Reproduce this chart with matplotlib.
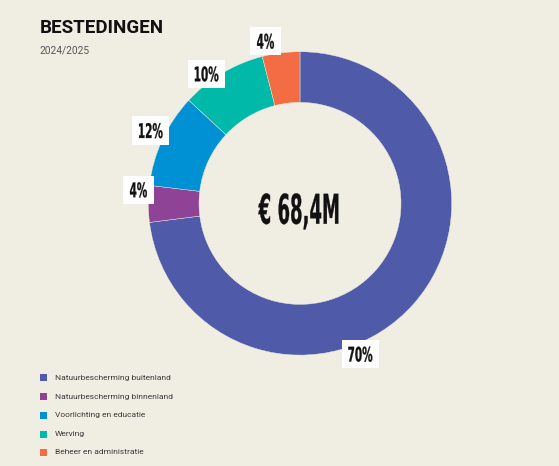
import math
import matplotlib.pyplot as plt
from matplotlib.patches import Rectangle, PathPatch
from matplotlib.textpath import TextPath
from matplotlib.font_manager import FontProperties
from matplotlib.transforms import Affine2D

# data
categories = ['Natuurbescherming buitenland', 'Natuurbescherming binnenland',
              'Voorlichting en educatie', 'Werving', 'Beheer en administratie']
shares = [73.0, 3.9, 10.0, 9.1, 4.0]          # slice sizes as drawn
pct_labels = ['70%', '4%', '12%', '10%', '4%']  # printed labels
total_label = '€ 68,4M'
title = 'BESTEDINGEN'
subtitle = '2024/2025'

colors = ['#4f5ba9', '#8e4396', '#0091d5', '#00b9a9', '#f46c43']
bg = '#f0ede3'

# label placement (clockwise degrees from top, distance from centre in px)
label_polar = [(158.2, 162.4), (274.8, 162.1), (296.0, 166.0), (324.2, 159.6), (348.0, 165.8)]

W, H = 559, 466
fig = plt.figure(figsize=(W / 100, H / 100), dpi=100, facecolor=bg)
ax = fig.add_axes([0, 0, 1, 1])
ax.set_facecolor(bg)

cx, cy = 300.0, H - 203.4
r_out, r_in = 151.7, 101.0

ax.pie(shares, colors=colors, startangle=90, counterclock=False,
       center=(cx, cy), radius=r_out,
       wedgeprops=dict(width=r_out - r_in, edgecolor=bg, linewidth=0.3))

bold = FontProperties(family='DejaVu Sans', weight='bold')
cap_ref = TextPath((0, 0), '0', size=1, prop=bold).get_extents()


def squeezed_text(s, x, y, cap_h, squeeze):
    """Draw condensed text as a path centred on (x, y); returns its width"""
    tp = TextPath((0, 0), s, size=1, prop=bold)
    ext = tp.get_extents()
    k = cap_h / cap_ref.height
    tr = (Affine2D()
          .translate(-(ext.x0 + ext.x1) / 2, -(cap_ref.y0 + cap_ref.y1) / 2)
          .scale(k * squeeze, k)
          .translate(x, y))
    ax.add_patch(PathPatch(tr.transform_path(tp), fc='#111111', ec='#111111',
                           lw=0.2, zorder=6))
    return ext.width * k * squeeze


# centre amount
squeezed_text(total_label, 298.3, H - 208.8, 31, 0.44)

# percentage labels in white boxes
pad = 6.6
cap = 15.2
for lab, (ang, dist) in zip(pct_labels, label_polar):
    rad = math.radians(ang)
    lx = cx + dist * math.sin(rad)
    ly = cy + dist * math.cos(rad)
    w = squeezed_text(lab, lx, ly, cap, 0.52)
    ax.add_patch(Rectangle((lx - w / 2 - pad, ly - cap / 2 - pad), w + 2 * pad, cap + 2 * pad,
                           fc='white', ec='none', zorder=5))

# title
ax.text(40, H - 33.3, title, fontsize=13.5, fontweight='bold', family='Roboto',
        color='#111111', ha='left', va='baseline')
ax.text(40, H - 53.3, subtitle, fontsize=7.3, family='Roboto',
        color='#555555', ha='left', va='baseline')

# legend
leg_y = [377.7, 396.7, 415.5, 434.2, 452.3]
for name, col, yy in zip(categories, colors, leg_y):
    ax.add_patch(Rectangle((40, H - yy - 3.5), 7, 7, fc=col, ec='none'))
    ax.text(55, H - yy, name, fontsize=6, family='Roboto', color='#3a3a3a',
            ha='left', va='center')

ax.set_xlim(0, W)
ax.set_ylim(0, H)
ax.set_aspect('auto')
ax.axis('off')

fig.savefig('out.png', dpi=100, facecolor=bg)
